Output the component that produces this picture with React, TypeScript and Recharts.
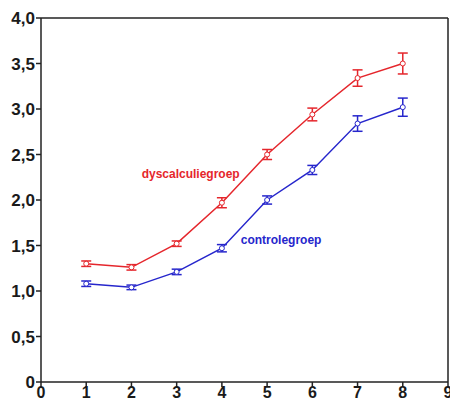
import React from 'react';
import { LineChart, Line, XAxis, YAxis, ErrorBar, ReferenceLine, ReferenceDot } from 'recharts';

// values
const sessions = [1, 2, 3, 4, 5, 6, 7, 8];
const dyscalculie = [1.3, 1.26, 1.52, 1.97, 2.5, 2.94, 3.34, 3.5];
const dyscalculieErr = [0.03, 0.03, 0.03, 0.055, 0.055, 0.07, 0.09, 0.115];
const controle = [1.08, 1.04, 1.21, 1.47, 2.0, 2.33, 2.84, 3.02];
const controleErr = [0.03, 0.025, 0.03, 0.04, 0.045, 0.05, 0.085, 0.1];

const xTicks = [0, 1, 2, 3, 4, 5, 6, 7, 8, 9];
const yTicks = [0, 0.5, 1, 1.5, 2, 2.5, 3, 3.5, 4];

const data = sessions.map((s, i) => ({
  x: s,
  dys: dyscalculie[i],
  dysErr: dyscalculieErr[i],
  ctrl: controle[i],
  ctrlErr: controleErr[i],
}));

const RED = '#e5262c';
const BLUE = '#2626cc';

const font = 'Liberation Sans, Arial, sans-serif';
const yTickStyle = { fill: '#1a1a1a', fontSize: 17, fontWeight: 700, fontFamily: font };
const xTickStyle = { fill: '#1a1a1a', fontSize: 16, fontWeight: 700, fontFamily: font };
const labelStyle = { fontSize: 12, fontWeight: 700, fontFamily: font };

const fmtY = (v: number) => (v === 0 ? '0' : v.toFixed(1).replace('.', ','));

export default function App() {
  return (
    <div style={{ position: 'absolute', left: 0, top: 0, width: 450, height: 401, background: '#fff' }}>
      <LineChart width={450} height={401} data={data} margin={{ top: 18, right: 2, left: 0, bottom: 0 }}>
        <XAxis
          dataKey="x"
          type="number"
          domain={[0, 9]}
          ticks={xTicks}
          interval={0}
          height={19}
          tickSize={5}
          tickMargin={0}
          tick={xTickStyle}
          stroke="#222"
          strokeWidth={1.5}
        />
        <YAxis
          type="number"
          domain={[0, 4]}
          ticks={yTicks}
          interval={0}
          width={41}
          tickSize={5}
          tickMargin={1}
          tickFormatter={fmtY}
          tick={yTickStyle}
          stroke="#222"
          strokeWidth={1.5}
        />
        <ReferenceLine y={4} stroke="#222" strokeWidth={1.5} />
        <ReferenceLine x={9} stroke="#222" strokeWidth={1.5} />
        <Line
          dataKey="dys"
          stroke={RED}
          strokeWidth={1.5}
          dot={{ r: 2.5, fill: '#fff', stroke: RED, strokeWidth: 1 }}
          isAnimationActive={false}
        >
          <ErrorBar dataKey="dysErr" width={5} stroke={RED} strokeWidth={1.5} />
        </Line>
        <Line
          dataKey="ctrl"
          stroke={BLUE}
          strokeWidth={1.5}
          dot={{ r: 2.5, fill: '#fff', stroke: BLUE, strokeWidth: 1 }}
          isAnimationActive={false}
        >
          <ErrorBar dataKey="ctrlErr" width={5} stroke={BLUE} strokeWidth={1.5} />
        </Line>
        <ReferenceDot
          x={3.31}
          y={2.29}
          r={0}
          fill="none"
          stroke="none"
          label={{ value: 'dyscalculiegroep', position: 'center', fill: RED, ...labelStyle }}
        />
        <ReferenceDot
          x={5.31}
          y={1.56}
          r={0}
          fill="none"
          stroke="none"
          label={{ value: 'controlegroep', position: 'center', fill: BLUE, ...labelStyle }}
        />
      </LineChart>
    </div>
  );
}
